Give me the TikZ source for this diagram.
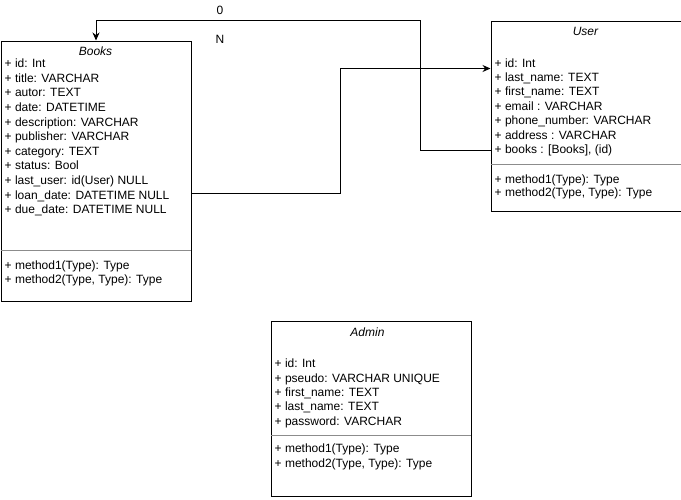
\documentclass[tikz,border=0pt]{standalone}
\usepackage{fontspec}
\setmainfont{Liberation Sans}
\usetikzlibrary{arrows.meta}
\begin{document}
\begin{tikzpicture}[x=1pt,y=-1pt,
  box/.style={draw=black,line width=1pt,anchor=north west,inner sep=0pt,fill=white},
  sep/.style={draw=black!45,line width=1pt},
  row/.style={anchor=base west,inner sep=0pt,font=\fontsize{12}{14}\selectfont},
  ttl/.style={anchor=base,inner sep=0pt,font=\fontsize{12}{14}\selectfont\itshape},
  lbl/.style={anchor=base,inner sep=0pt,font=\fontsize{12}{14}\selectfont},
  conn/.style={draw=black,line width=1pt},
  tip/.style={-{Stealth[length=8pt,width=7pt]}}]
\useasboundingbox (0,0) rectangle (681,499);
% Books
\node[box,minimum width=190pt,minimum height=260pt] (books) at (0.5,40.5) {};
\draw[sep] (0.5,250.7) -- (190.5,250.7);
\node[ttl] (bt) at (95.5,55.9) {Books};
\foreach \t [count=\i from 0] in {{+ id: Int},{+ title: VARCHAR},{+ autor: TEXT},{+ date: DATETIME},{+ description: VARCHAR},{+ publisher: VARCHAR},{+ category: TEXT},{+ status: Bool},{+ last\_user: id(User) NULL},{+ loan\_date: DATETIME NULL},{+ due\_date: DATETIME NULL}}
  \node[row] (b\i) at (4.5,67.6+14.6*\i) {\t};
\node[row] (bm1) at (4.5,269.3) {+ method1(Type): Type};
\node[row] (bm2) at (4.5,283.6) {+ method2(Type, Type): Type};
% User
\node[box,minimum width=190pt,minimum height=190pt] (user) at (490.5,20.5) {};
\draw[sep] (490.5,164) -- (680.5,164);
\node[ttl] (ut) at (585.5,35.3) {User};
\foreach \t [count=\i from 0] in {{+ id: Int},{+ last\_name: TEXT},{+ first\_name: TEXT},{+ email : VARCHAR},{+ phone\_number: VARCHAR},{+ address : VARCHAR},{+ books : [Books], (id)}}
  \node[row] (u\i) at (494.5,67+14.43*\i) {\t};
\node[row] (um1) at (494.5,183.3) {+ method1(Type): Type};
\node[row] (um2) at (494.5,196.6) {+ method2(Type, Type): Type};
% Admin
\node[box,minimum width=200pt,minimum height=175pt] (admin) at (270.5,320.5) {};
\draw[sep] (270.5,435.7) -- (470.5,435.7);
\node[ttl] (at) at (367.5,336) {Admin};
\foreach \t [count=\i from 0] in {{+ id: Int},{+ pseudo: VARCHAR UNIQUE},{+ first\_name: TEXT},{+ last\_name: TEXT},{+ password: VARCHAR}}
  \node[row] (a\i) at (274.5,367.6+14.4*\i) {\t};
\node[row] (am1) at (274.5,452.6) {+ method1(Type): Type};
\node[row] (am2) at (274.5,467.6) {+ method2(Type, Type): Type};
% connectors
\coordinate (k1) at (340.5,193.8);
\coordinate (k2) at (340.5,68.5);
\draw[conn,tip] (books.east |- k1) -- (k1) -- (k2) -- (user.west |- k2);
\coordinate (m1) at (420.5,150.7);
\coordinate (m2) at (420.5,20.7);
\coordinate (m3) at (96,20.7);
\draw[conn,tip] (user.west |- m1) -- (m1) -- (m2) -- (m3) -- (books.north -| m3);
\node[lbl] (l0) at (220,14.3) {0};
\node[lbl] (lN) at (220,43.6) {N};
\end{tikzpicture}
\end{document}
